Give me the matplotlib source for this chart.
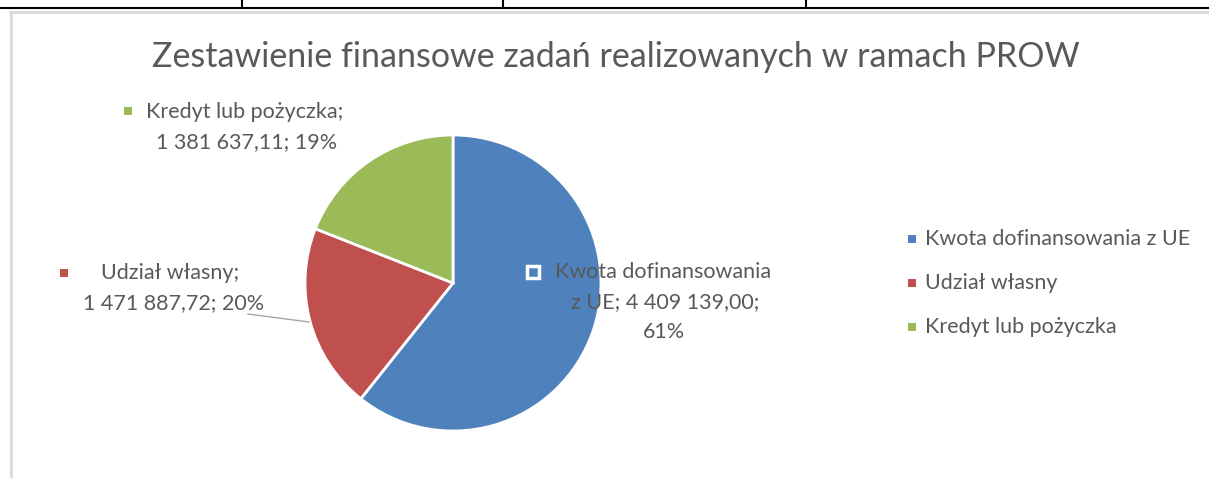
import matplotlib
matplotlib.use('Agg')
from matplotlib import pyplot as plt
from matplotlib.patches import Rectangle

labels = ['Kwota dofinansowania z UE', 'Udział własny', 'Kredyt lub pożyczka']
values = [4409139.00, 1471887.72, 1381637.11]
percents = ['61%', '20%', '19%']
colors = ['#4f81bd', '#c0504d', '#9bbb59']

plt.rcParams['font.family'] = ['Lato', 'DejaVu Sans']
W, H = 1209, 478
TXT = '#595959'

fig = plt.figure(figsize=(W / 100, H / 100), dpi=100)


def fx(x):
    return x / W


def fy(y):
    return 1 - y / H


# table borders above the chart
fig.add_artist(plt.Line2D([0, 1], [fy(8), fy(8)], color='black', lw=1.5))
for x in [242, 503, 806]:
    fig.add_artist(plt.Line2D([fx(x), fx(x)], [fy(0), fy(8)], color='black', lw=1.5))
# chart area border
fig.add_artist(plt.Line2D([fx(10), 1], [fy(12), fy(12)], color='#d9d9d9', lw=2))
fig.add_artist(plt.Line2D([fx(11), fx(11)], [fy(12), 0], color='#d9d9d9', lw=2))

fig.text(fx(616), fy(57), 'Zestawienie finansowe zadań realizowanych w ramach PROW',
         ha='center', va='center', fontsize=24.5, color=TXT)

cx, cy, r = 453, 283, 148
ax = fig.add_axes([fx(cx - r), fy(cy + r), (2 * r) / W, (2 * r) / H])
ax.pie(values, colors=colors, startangle=90, counterclock=False, radius=1,
       wedgeprops=dict(edgecolor='white', linewidth=2))
ax.set_xlim(-1, 1)
ax.set_ylim(-1, 1)
ax.set_aspect('auto')
ax.axis('off')


def fmt(v):
    s = '{:,.2f}'.format(v)
    return s.replace(',', ' ').replace('.', ',')


def square(x, y, c, size=8, ec=None, lw=0):
    h = size / 2
    fig.add_artist(Rectangle((fx(x - h), fy(y + h)), size / W, size / H, facecolor=c,
                             edgecolor=ec if ec else c, lw=lw))


fs = 15.5
# data labels
square(128, 111, colors[2])
fig.text(fx(146), fy(112), labels[2] + ';', ha='left', va='center', fontsize=fs, color=TXT)
fig.text(fx(247), fy(142), fmt(values[2]) + '; ' + percents[2], ha='center', va='center',
         fontsize=fs, color=TXT)

square(64, 273, colors[1])
fig.text(fx(170), fy(273), labels[1] + ';', ha='center', va='center', fontsize=fs, color=TXT)
fig.text(fx(174), fy(303), fmt(values[1]) + '; ' + percents[1], ha='center', va='center',
         fontsize=fs, color=TXT)
fig.add_artist(plt.Line2D([fx(248), fx(309)], [fy(314), fy(322)], color='#a6a6a6', lw=1))

square(533, 272, colors[0], size=12, ec='white', lw=2.5)
fig.text(fx(663), fy(272), 'Kwota dofinansowania', ha='center', va='center', fontsize=fs, color=TXT)
fig.text(fx(665), fy(302), 'z UE; ' + fmt(values[0]) + ';', ha='center', va='center',
         fontsize=fs, color=TXT)
fig.text(fx(664), fy(332), percents[0], ha='center', va='center', fontsize=fs, color=TXT)

# legend
for i, lab in enumerate(labels):
    y = 239 + 44 * i
    square(912, y, colors[i])
    fig.text(fx(925), fy(y), lab, ha='left', va='center', fontsize=fs, color=TXT)

fig.savefig('out.png', dpi=100, facecolor='white')
